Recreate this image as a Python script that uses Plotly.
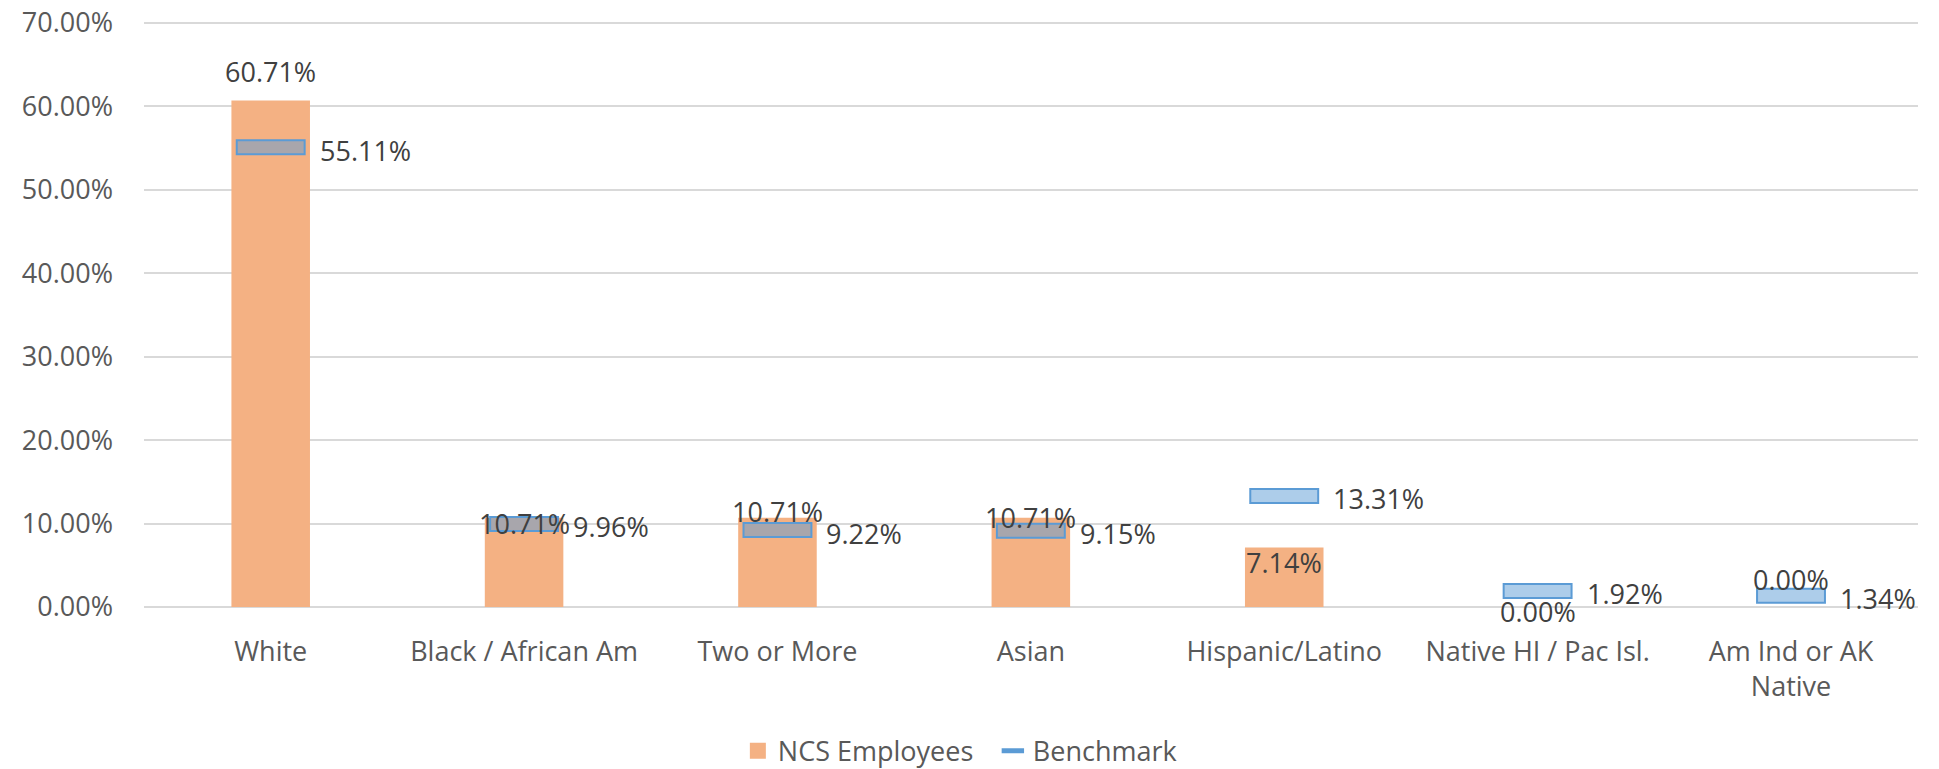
import plotly.graph_objects as go

categories = ["White", "Black / African Am", "Two or More", "Asian", "Hispanic/Latino",
              "Native HI / Pac Isl.", "Am Ind or AK<br>Native"]
ncs_employees = [0.6071, 0.1071, 0.1071, 0.1071, 0.0714, 0.0000, 0.0000]
benchmark = [0.5511, 0.0996, 0.0922, 0.0915, 0.1331, 0.0192, 0.0134]
y_ticks = [0.0, 0.1, 0.2, 0.3, 0.4, 0.5, 0.6, 0.7]

# styling
ncs_label_yshift = [29, -6, 6, 0, -15, -4, 28]
marker_thickness = 0.0168
FONT = "Open Sans"
TXT = "#595959"
FS = 27
ORANGE = "#f4b183"
BLUE = "#5b9bd5"

fig = go.Figure()
fig.add_trace(go.Bar(
    x=categories, y=ncs_employees, name="NCS Employees",
    marker=dict(color=ORANGE, line=dict(width=0)),
    width=0.31, hoverinfo="skip", showlegend=False,
))
fig.add_trace(go.Bar(
    x=categories, y=[marker_thickness] * len(benchmark),
    base=[b - marker_thickness / 2 for b in benchmark],
    marker=dict(color="rgba(91,155,213,0.5)", line=dict(color=BLUE, width=2)),
    width=0.268, showlegend=False, hoverinfo="skip",
))
fig.add_trace(go.Scatter(
    x=[None], y=[None], mode="markers", name="NCS Employees",
    marker=dict(symbol="square", size=16, color=ORANGE),
))
fig.add_trace(go.Scatter(
    x=[None], y=[None], mode="markers", name="Benchmark",
    marker=dict(symbol="line-ew", size=18, color=BLUE,
                line=dict(color=BLUE, width=5)),
))

for c, v, s in zip(categories, ncs_employees, ncs_label_yshift):
    fig.add_annotation(x=c, y=v, text=f"{v*100:.2f}%", showarrow=False,
                       yanchor="middle", yshift=s,
                       font=dict(family=FONT, size=FS, color="#404040"))
for c, v in zip(categories, benchmark):
    fig.add_annotation(x=c, y=v, text=f"{v*100:.2f}%", showarrow=False,
                       xanchor="left", yanchor="middle", xshift=47, yshift=-3,
                       font=dict(family=FONT, size=FS, color="#404040"))

fig.update_layout(
    width=1939, height=769,
    margin=dict(l=144, r=21, t=21, b=162, autoexpand=False),
    paper_bgcolor="white", plot_bgcolor="white",
    barmode="overlay",
    font=dict(family=FONT, size=FS, color=TXT),
    showlegend=True,
    legend=dict(orientation="h", x=0.4785, xanchor="center", y=-0.246, yanchor="middle",
                font=dict(family=FONT, size=FS, color=TXT), itemwidth=30,
                entrywidth=210),
    xaxis=dict(showgrid=False, showline=False, ticks="", ticklabelstandoff=26,
               automargin=False,
               tickfont=dict(family=FONT, size=FS, color=TXT)),
    yaxis=dict(range=[0, 0.7024], tickvals=y_ticks, tickformat=".2%",
               showgrid=True, gridcolor="#d9d9d9", gridwidth=2,
               zeroline=True, zerolinecolor="#d9d9d9", zerolinewidth=2,
               showline=False, ticks="", ticklabelstandoff=30, automargin=False,
               tickfont=dict(family=FONT, size=FS, color=TXT)),
)

fig.write_html("out.html", config={"displayModeBar": False},
               post_script="document.body.style.margin='0';document.body.style.overflow='hidden';")
